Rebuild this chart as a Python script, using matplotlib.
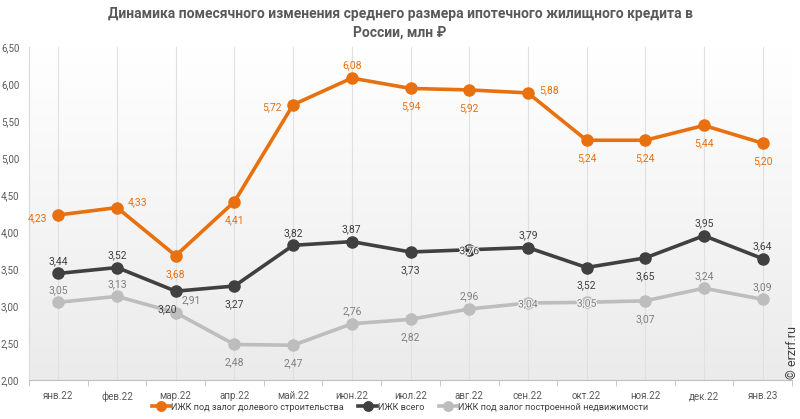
import numpy as np
import matplotlib
matplotlib.use("Agg")
import matplotlib.pyplot as plt
import matplotlib.patheffects as pe

plt.rcParams['font.family'] = ['Roboto', 'DejaVu Sans']

months = ["янв.22", "фев.22", "мар.22", "апр.22", "май.22", "июн.22", "июл.22",
          "авг.22", "сен.22", "окт.22", "ноя.22", "дек.22", "янв.23"]
shared = [4.23, 4.33, 3.68, 4.41, 5.72, 6.08, 5.94, 5.92, 5.88, 5.24, 5.24, 5.44, 5.20]
total = [3.44, 3.52, 3.20, 3.27, 3.82, 3.87, 3.73, 3.76, 3.79, 3.52, 3.65, 3.95, 3.64]
built = [3.05, 3.13, 2.91, 2.48, 2.47, 2.76, 2.82, 2.96, 3.04, 3.05, 3.07, 3.24, 3.09]

names = ["ИЖК под залог долевого строительства", "ИЖК всего",
         "ИЖК под залог построенной недвижимости"]
colors = ["#E8700F", "#404040", "#BDBDBD"]
label_colors = ["#E8700F", "#404040", "#7F7F7F"]

# label placement: (dx, dy) in points
a, b = (0, 9), (0, -13)
l, r, c = (-15, -2), (15, 2), (0, -1)
offsets = [
    [l, (15, 4), b, b, l, a, b, b, r, b, b, b, b],
    [a, a, (-6, -13), b, a, a, b, c, a, b, b, a, a],
    [a, a, (11, 9), b, b, a, b, a, c, c, b, a, a],
]

fig = plt.figure(figsize=(8, 4.19), dpi=100)
ax = fig.add_axes([29/800, 1-380/419, 763/800, 333/419])

# gradient background
grad = np.linspace(0, 1, 256).reshape(-1, 1)
ax.imshow(grad, extent=[-0.5, 12.5, 2.0, 6.5], aspect="auto",
          cmap=matplotlib.colors.LinearSegmentedColormap.from_list("g", ["#EBEBEB", "#FFFFFF"]),
          origin="lower", zorder=0)

x = np.arange(len(months))
for xi in x:
    ax.axvline(xi, color="#E0E0E0", lw=0.8, zorder=1)

halo = [pe.withStroke(linewidth=1.6, foreground="#F2F2F2")]
for i, vals in enumerate([shared, total, built]):
    ax.plot(x, vals, color=colors[i], lw=2.6, marker="o", ms=8, label=names[i], zorder=3)
    for j, v in enumerate(vals):
        off = offsets[i][j]
        ax.annotate(f"{v:.2f}".replace(".", ","), (x[j], v), xytext=off,
                    textcoords="offset points", ha="center", va="center",
                    fontsize=7.5, color=label_colors[i], zorder=4,
                    path_effects=halo if off is c else None)

ax.set_xlim(-0.5, 12.5)
ax.set_ylim(2.0, 6.5)
yt = np.arange(2.0, 6.51, 0.5)
ax.set_yticks(yt)
ax.set_yticklabels([f"{t:.2f}".replace(".", ",") for t in yt], fontsize=7, color="#595959")
ax.set_xticks(x)
ax.set_xticklabels(months, fontsize=7, color="#595959")
ax.set_xticks(np.arange(-0.5, 12.6, 1), minor=True)
ax.tick_params(axis="x", which="major", length=0, pad=8)
ax.tick_params(axis="x", which="minor", length=4, color="#BFBFBF")
ax.tick_params(axis="y", length=0, pad=7)
for s in ["top", "right"]:
    ax.spines[s].set_visible(False)
ax.spines["left"].set_color("#D9D9D9")
ax.spines["bottom"].set_color("#BFBFBF")

fig.text(0.5, 1-14/419, "Динамика помесячного изменения среднего размера ипотечного жилищного кредита в",
         ha="center", va="center", fontsize=10, fontweight="bold", color="#595959")
fig.text(0.5, 1-33/419, "России, млн ₽", ha="center", va="center", fontsize=10,
         fontweight="bold", color="#595959")

fig.legend(loc="center", bbox_to_anchor=(0.5, 1-407/419), ncol=3, frameon=False,
           fontsize=6.6, handlelength=2.0, handletextpad=0.1, columnspacing=1.6,
           labelcolor="#404040", markerscale=0.85)

fig.text(793/800, 1-352/419, "© erzrf.ru", rotation=90, ha="center", va="center",
         fontsize=9, color="#404040")

fig.savefig("out.png", dpi=100)
